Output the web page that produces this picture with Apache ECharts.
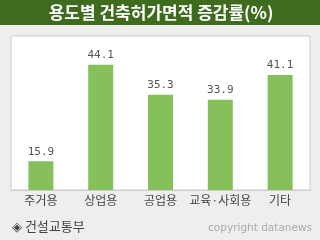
<!DOCTYPE html>
<html><head><meta charset="utf-8">
<script src="https://cdn.jsdelivr.net/npm/echarts@6/dist/echarts.min.js"></script>
<style>html,body{margin:0;padding:0;background:#eeeeee;}#c{width:320px;height:240px;}</style>
</head><body><div id="c"></div>
<script>
const titleText = '용도별 건축허가면적 증감률(%)';
const categories = ['주거용', '상업용', '공업용', '교육·사회용', '기타'];
const values = [15.9, 44.1, 35.3, 33.9, 41.1];
const sourceText = '◈ 건설교통부';
const copyrightText = 'copyright datanews';

const chart = echarts.init(document.getElementById('c'), null, {renderer: 'canvas'});
chart.setOption({
  backgroundColor: '#eeeeee',
  animation: false,
  grid: {left: 11, right: 10, top: 36, bottom: 50, show: true, backgroundColor: '#ffffff', borderColor: '#cccccc', borderWidth: 1},
  xAxis: {
    type: 'category', data: categories,
    axisLine: {lineStyle: {color: '#cccccc'}},
    axisTick: {inside: true, length: 5, lineStyle: {color: '#999999'}},
    axisLabel: {interval: 0, hideOverlap: false, color: '#444444', fontSize: 12, fontFamily: 'Noto Sans CJK KR', margin: 4}
  },
  yAxis: {type: 'value', min: 7.5, max: 52.5, show: false, splitLine: {show: false}},
  series: [{
    type: 'bar', data: values, barWidth: 25,
    itemStyle: {color: '#86c05a'},
    label: {show: true, position: 'top', distance: 4, color: '#555555', fontSize: 11, fontFamily: 'DejaVu Sans Mono'}
  }],
  graphic: [
    {type: 'rect', left: 0, top: 0, shape: {width: 320, height: 25}, style: {fill: '#3e6b1e'}, z: 10},
    {type: 'text', x: 161, y: 13, style: {text: titleText, fill: '#ffffff', font: 'bold 17px "Noto Sans CJK KR"', align: 'center', verticalAlign: 'middle'}, z: 11},
    {type: 'text', x: 12, y: 226, style: {text: sourceText, fill: '#444444', font: '13px "Noto Sans CJK KR"', align: 'left', verticalAlign: 'middle'}, z: 11},
    {type: 'text', x: 312, y: 228, style: {text: copyrightText, fill: '#aaaaaa', font: '10.5px "DejaVu Sans"', align: 'right', verticalAlign: 'middle'}, z: 11}
  ]
});
</script></body></html>
